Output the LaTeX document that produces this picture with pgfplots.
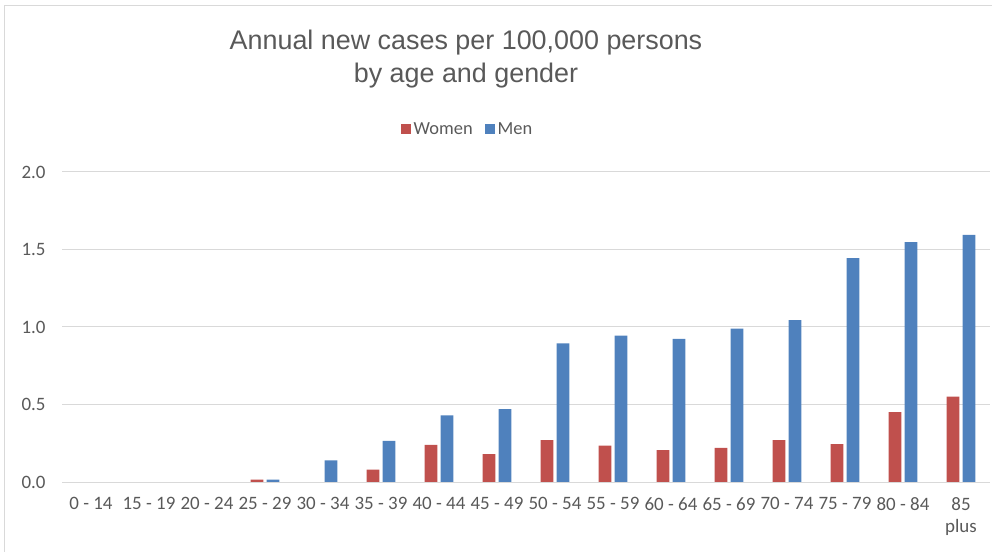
\documentclass[border=0pt]{standalone}
\usepackage{pgfplots}
\pgfplotsset{compat=1.18}
\usepackage{fontspec}
\setmainfont{Carlito}
\newfontfamily\titlefont{Liberation Sans}
\definecolor{women}{RGB}{192,80,77}
\definecolor{men}{RGB}{79,129,189}
\definecolor{txt}{RGB}{89,89,89}
\definecolor{gridc}{RGB}{217,217,217}
\begin{document}
\begin{tikzpicture}
\useasboundingbox (-62bp,-70bp) rectangle (930bp,482bp);
\draw[gridc, line width=1bp] (-57bp,-70bp) -- (-57bp,476bp) -- (930bp,476bp);
\node[anchor=base, text=txt, font={\titlefont\fontsize{27}{30}\selectfont}] at (404bp,432bp) {Annual new cases per 100,000 persons};
\node[anchor=base, text=txt, font={\titlefont\fontsize{27}{30}\selectfont}] at (404bp,399bp) {by age and gender};
\begin{axis}[
  at={(0bp,0bp)}, anchor=south west,
  scale only axis, width=928bp, height=310bp,
  ymin=0, ymax=2, xmin=-0.5, xmax=15.5,
  ybar=3.3bp, bar width=12.7bp,
  ytick={0,0.5,1,1.5,2},
  ymajorgrids=true, xmajorgrids=false,
  major grid style={draw=gridc, line width=1bp},
  axis line style={draw=none},
  major tick length=0pt,
  xtick={0,...,15},
  xticklabels={0 - 14,15 - 19,20 - 24,25 - 29,30 - 34,35 - 39,40 - 44,45 - 49,50 - 54,55 - 59,60 - 64,65 - 69,70 - 74,75 - 79,80 - 84,85\\plus},
  /pgf/number format/.cd, fixed, fixed zerofill, precision=1, assume math mode=true, /pgfplots/.cd,
  tick label style={text=txt, font=\fontsize{19}{22}\selectfont},
  xticklabel style={align=center, yshift=-12bp},
  yticklabel style={xshift=-13bp},
  legend style={at={(0.4375,1.1387)}, anchor=center, draw=none, fill=none,
    font=\fontsize{18.5}{22}\selectfont, text=txt, inner sep=0pt,
    nodes={inner sep=2.5bp},
    /tikz/every even column/.append style={column sep=10bp}},
  legend columns=2,
  legend image code/.code={\fill[#1] (0bp,-5bp) rectangle (10bp,5bp);},
]
\addplot[fill=women, draw=none] coordinates {
(0,0) (1,0) (2,0) (3,0.015) (4,0) (5,0.08) (6,0.24) (7,0.18) (8,0.27) (9,0.235) (10,0.205) (11,0.22) (12,0.27) (13,0.245) (14,0.45) (15,0.55)};
\addplot[fill=men, draw=none] coordinates {
(0,0) (1,0) (2,0) (3,0.015) (4,0.14) (5,0.265) (6,0.43) (7,0.47) (8,0.894) (9,0.945) (10,0.923) (11,0.99) (12,1.045) (13,1.445) (14,1.548) (15,1.594)};
\legend{Women,Men}
\end{axis}
\end{tikzpicture}
\end{document}
